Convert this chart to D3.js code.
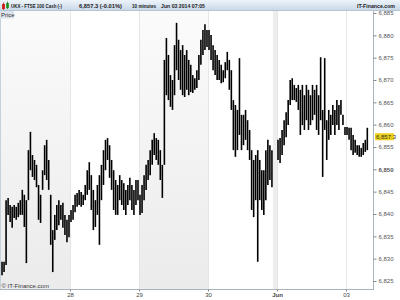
<!DOCTYPE html>
<html><head><meta charset="utf-8">
<script src="https://cdn.jsdelivr.net/npm/d3@7/dist/d3.min.js"></script>
<style>html,body{margin:0;padding:0;background:#fff;}svg{display:block;font-family:"Liberation Sans",Arial,sans-serif;}</style>
</head><body><svg id="c" width="400" height="300"></svg>
<script>
// ---- data (10-min style OHLC ranges) ----
const dayLabels = ["27", "28", "29", "30", "Jun", "03"];
const boldDayLabels = ["Jun"];
const slotsPerDay = 34;
const priceTicks = [6825, 6830, 6835, 6840, 6845, 6850, 6855, 6860, 6865, 6870, 6875, 6880, 6885];
const boldPriceTicks = [6850];
const lastPrice = 6857.3;

const may27High = [6829.3,6829.3,6843.1,6843.6,6842.0,6841.6,6842.0,6841.6,6842.5,6843.1,6845.4,6844.3,6843.1,6854.3,6858.4,6853.2,6852.1,6851.0,6846.5,6844.3,6849.8,6855.4,6856.6,6852.1,6844.3,6836.4,6839.8,6842.0,6843.1,6842.0,6842.5,6839.8,6838.7,6839.8];
const may27Low  = [6826.3,6827.0,6828.6,6839.8,6838.2,6836.9,6839.1,6838.7,6839.3,6839.8,6839.8,6837.1,6829.0,6843.1,6849.8,6848.3,6847.6,6846.0,6838.7,6838.0,6845.4,6848.7,6847.6,6845.4,6833.1,6827.0,6834.2,6836.4,6837.5,6838.7,6836.9,6835.3,6833.7,6834.8];

const may28High = [6840.9,6842.0,6844.3,6844.7,6845.4,6844.9,6844.3,6846.5,6849.8,6851.6,6848.7,6845.4,6843.1,6846.5,6848.7,6851.0,6854.3,6856.6,6857.0,6855.4,6852.1,6849.8,6847.6,6846.5,6848.7,6847.6,6846.9,6845.4,6846.5,6848.1,6846.5,6845.4,6847.6,6847.6];
const may28Low  = [6838.2,6838.7,6840.4,6841.6,6842.0,6841.6,6842.0,6843.1,6844.3,6845.4,6840.9,6836.4,6837.1,6839.8,6833.1,6843.1,6846.5,6849.8,6852.1,6848.1,6845.4,6840.9,6839.8,6839.8,6843.1,6842.0,6840.9,6839.8,6842.0,6843.1,6840.9,6839.8,6842.0,6843.1];

const may29High = [6844.3,6846.5,6848.7,6851.0,6852.1,6854.3,6856.6,6858.1,6857.0,6856.6,6854.3,6851.0,6874.5,6879.4,6875.6,6871.1,6870.0,6877.8,6882.8,6879.0,6876.7,6877.8,6875.6,6876.7,6874.5,6873.4,6871.1,6870.4,6872.2,6875.6,6879.0,6881.2,6882.5,6881.2];
const may29Low  = [6839.8,6840.2,6843.1,6845.4,6847.6,6848.7,6851.0,6853.2,6852.1,6851.0,6847.6,6843.6,6851.0,6866.6,6865.5,6864.0,6863.3,6866.6,6872.2,6870.0,6867.8,6866.6,6866.2,6867.8,6866.6,6867.3,6867.1,6867.8,6868.2,6870.0,6873.4,6875.6,6876.7,6877.4];

const may30High = [6881.2,6880.1,6877.8,6876.7,6875.6,6874.5,6873.4,6872.2,6874.0,6876.3,6874.5,6872.2,6865.5,6864.4,6863.3,6874.9,6862.2,6862.2,6863.3,6861.0,6858.8,6854.3,6852.1,6853.2,6854.3,6852.1,6849.8,6849.8,6854.3,6856.6,6855.4,6854.3];
const may30Low  = [6876.7,6874.5,6872.2,6871.1,6870.0,6870.0,6869.3,6869.5,6870.4,6872.2,6867.8,6863.3,6854.3,6852.8,6854.3,6857.7,6854.3,6855.4,6856.6,6854.3,6852.1,6840.9,6839.3,6843.1,6829.3,6843.1,6840.9,6839.8,6843.1,6846.5,6847.6,6846.0];

const jun02High = [6856.6,6857.0,6858.8,6861.0,6862.8,6865.5,6870.0,6870.4,6868.9,6868.2,6868.9,6867.8,6868.9,6866.6,6868.9,6867.8,6866.6,6868.9,6867.8,6868.9,6866.6,6875.1,6863.3,6874.9,6861.0,6863.3,6862.2,6864.4,6863.3,6865.5,6864.4,6865.5,6862.2,6859.5];
const jun02Low  = [6852.1,6851.4,6853.2,6855.4,6857.2,6859.9,6864.4,6865.5,6865.5,6865.1,6863.3,6857.7,6859.9,6858.8,6861.0,6858.8,6859.9,6861.0,6862.2,6858.8,6857.7,6861.0,6848.3,6858.8,6852.1,6856.6,6857.7,6859.9,6857.7,6859.9,6858.8,6862.2,6859.9,6857.7];

const jun03High = [6859.5,6859.3,6859.3,6857.7,6856.6,6855.4,6855.4,6854.8,6855.9,6856.6,6859.3];
const jun03Low  = [6857.7,6856.6,6854.3,6853.2,6853.7,6853.2,6852.8,6852.8,6853.2,6853.9,6854.3];

const highsByDay = [may27High, may28High, may29High, may30High, jun02High, jun03High];
const lowsByDay  = [may27Low, may28Low, may29Low, may30Low, jun02Low, jun03Low];

// ---- build bar table ----
const bars = [];
highsByDay.forEach((hs, d) => hs.forEach((h, i) => bars.push({slot: d * slotsPerDay + i + 0.5, high: h, low: lowsByDay[d][i]})));

const svg = d3.select("#c");
const W = 400, H = 300;
const plotL = 0, plotR = 373, plotT = 11, plotB = 290;

const x = d3.scaleLinear().domain([0, 183.3]).range([1, 373]);
const y = d3.scaleLinear().domain([6825, 6885]).range([281, 13]);

const defs = svg.append("defs");
const gGray = defs.append("linearGradient").attr("id", "gray").attr("x1", 0).attr("y1", 0).attr("x2", 0).attr("y2", 1);
gGray.append("stop").attr("offset", "0%").attr("stop-color", "#fbfbfb");
gGray.append("stop").attr("offset", "100%").attr("stop-color", "#ebebeb");
const gHead = defs.append("linearGradient").attr("id", "head").attr("x1", 0).attr("y1", 0).attr("x2", 0).attr("y2", 1);
gHead.append("stop").attr("offset", "0%").attr("stop-color", "#eef4fa");
gHead.append("stop").attr("offset", "100%").attr("stop-color", "#c6d6e6");
defs.append("clipPath").attr("id", "plotclip").append("rect").attr("x", plotL).attr("y", plotT).attr("width", plotR - plotL).attr("height", plotB - plotT);

svg.append("rect").attr("width", W).attr("height", H).attr("fill", "#fff");

// day bands
const bandG = svg.append("g").attr("clip-path", "url(#plotclip)");
dayLabels.forEach((lab, d) => {
  if (d % 2 === 0 && d !== 4) {
    bandG.append("rect").attr("x", d === 0 ? 0 : x(d * slotsPerDay)).attr("y", plotT)
      .attr("width", (d === 0 ? x(slotsPerDay) : x((d + 1) * slotsPerDay) - x(d * slotsPerDay)))
      .attr("height", plotB - plotT).attr("fill", "url(#gray)");
  }
});
// weekend separator stripe (empty slots at end of 30th)
bandG.append("rect").attr("x", x(3 * slotsPerDay + may30High.length)).attr("y", plotT)
  .attr("width", x(4 * slotsPerDay) - x(3 * slotsPerDay + may30High.length)).attr("height", plotB - plotT).attr("fill", "#ededed");
// day boundary lines
dayLabels.forEach((lab, d) => {
  if (d === 0) return;
  bandG.append("line").attr("x1", Math.round(x(d * slotsPerDay)) + 0.5).attr("x2", Math.round(x(d * slotsPerDay)) + 0.5)
    .attr("y1", plotT).attr("y2", plotB).attr("stroke", "#e6e6e6").attr("stroke-width", 1);
});

// bars
bandG.append("g").selectAll("line").data(bars).join("line")
  .attr("x1", d => x(d.slot)).attr("x2", d => x(d.slot))
  .attr("y1", d => y(d.high)).attr("y2", d => y(d.low))
  .attr("stroke", "#000").attr("stroke-width", 1.6);

// left border
svg.append("line").attr("x1", 0.5).attr("x2", 0.5).attr("y1", plotT).attr("y2", plotB).attr("stroke", "#c5d2de");

// right axis
const yAxis = d3.axisRight(y).tickValues(priceTicks).tickFormat(d3.format(",")).tickSize(3).tickPadding(2);
const ya = svg.append("g").attr("transform", `translate(${plotR + 0.5},0)`).call(yAxis);
ya.select(".domain").attr("d", `M0,${plotT}V${plotB}`).attr("stroke", "#a9b4bf");
ya.selectAll(".tick line").attr("stroke", "#888");
ya.selectAll(".tick text").attr("font-size", 6).attr("fill", "#555").attr("font-family", "Liberation Sans, Arial, sans-serif")
  .attr("font-weight", d => boldPriceTicks.includes(d) ? "bold" : "normal");

// bottom axis
const xAxis = d3.axisBottom(x).tickValues(dayLabels.map((_, d) => d * slotsPerDay).slice(1))
  .tickFormat((v) => dayLabels[Math.round(v / slotsPerDay)]).tickSize(2).tickPadding(1);
const xa = svg.append("g").attr("transform", `translate(0,${plotB - 0.5})`).call(xAxis);
xa.select(".domain").attr("d", `M0,0H${plotR + 1}`).attr("stroke", "#a9b4bf");
xa.selectAll(".tick line").attr("stroke", "#888");
xa.selectAll(".tick text").attr("font-size", 6).attr("fill", "#444").attr("font-family", "Liberation Sans, Arial, sans-serif")
  .attr("font-weight", (v) => boldDayLabels.includes(dayLabels[Math.round(v / slotsPerDay)]) ? "bold" : "normal");

// last price tag
const ly = y(lastPrice);
svg.append("rect").attr("x", 375).attr("y", ly - 3.5).attr("width", 19).attr("height", 7).attr("fill", "#ecd01a");
svg.append("text").attr("x", 376).attr("y", ly + 2.2).attr("font-size", 6).attr("fill", "#333").text(d3.format(",.1f")(lastPrice));

// header bar
svg.append("rect").attr("x", 0).attr("y", 0).attr("width", W).attr("height", 11).attr("fill", "url(#head)");
svg.append("line").attr("x1", 0).attr("x2", W).attr("y1", 10.5).attr("y2", 10.5).attr("stroke", "#b3c4d5");
// small candle icon
svg.append("rect").attr("x", 2).attr("y", 4).attr("width", 3).attr("height", 5).attr("fill", "#d9302a");
svg.append("line").attr("x1", 3.5).attr("x2", 3.5).attr("y1", 2.5).attr("y2", 10).attr("stroke", "#b01f1a").attr("stroke-width", 0.8);
svg.append("rect").attr("x", 6).attr("y", 3).attr("width", 3).attr("height", 5).attr("fill", "#3aa53a");
svg.append("line").attr("x1", 7.5).attr("x2", 7.5).attr("y1", 1.5).attr("y2", 9).attr("stroke", "#1f7a1f").attr("stroke-width", 0.8);
const headTexts = [
  {t: "UKX - FTSE 100 Cash (-)", x: 11, w: 51},
  {t: "6,857.3 (-0.01%)", x: 79, w: 43},
  {t: "10 minutes", x: 132, w: 24},
  {t: "Jun 03 2014 07:05", x: 161, w: 44}
];
svg.append("g").selectAll("text").data(headTexts).join("text")
  .attr("x", d => d.x).attr("y", 8).attr("font-size", 5.6).attr("font-weight", "bold").attr("fill", "#1a1a1a")
  .attr("textLength", d => d.w).attr("lengthAdjust", "spacingAndGlyphs").text(d => d.t);
svg.append("text").attr("x", 395).attr("y", 8).attr("text-anchor", "end").attr("font-size", 5.6).attr("font-weight", "bold").attr("fill", "#1a1a1a")
  .attr("textLength", 38).attr("lengthAdjust", "spacingAndGlyphs").text("IT-Finance.com");

// Price label
svg.append("rect").attr("x", 0).attr("y", 11).attr("width", 14).attr("height", 7.5).attr("fill", "#dbe4ed");
svg.append("text").attr("x", 1).attr("y", 16.8).attr("font-size", 6).attr("fill", "#333").text("Price");

// copyright
svg.append("text").attr("x", 1.5).attr("y", 288).attr("font-size", 6).attr("fill", "#333").text("© IT-Finance.com");
</script></body></html>
